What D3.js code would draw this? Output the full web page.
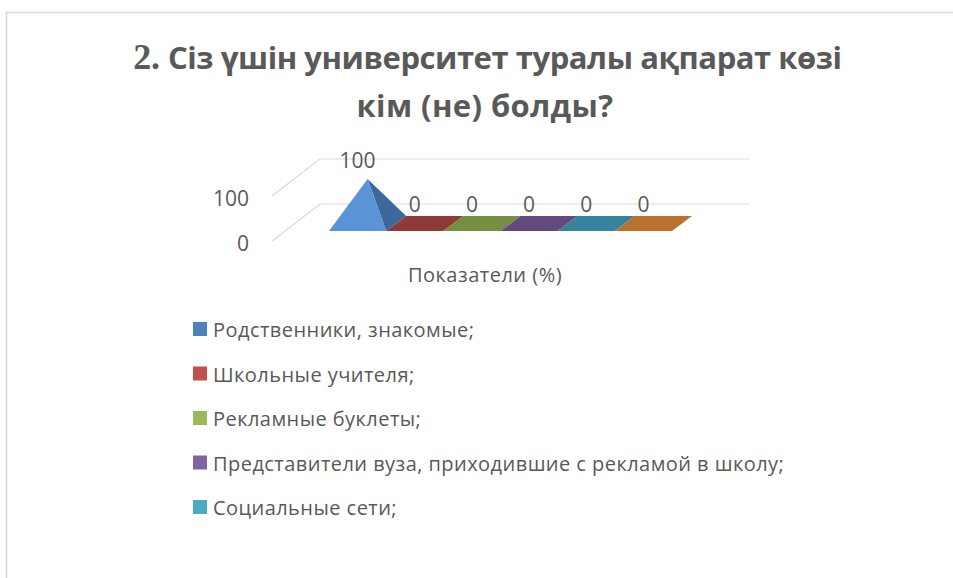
<!DOCTYPE html>
<html><head><meta charset="utf-8">
<script src="https://cdn.jsdelivr.net/npm/d3@7/dist/d3.min.js"></script>
<style>html,body{margin:0;background:#fff}svg{display:block}text{font-family:"Open Sans","Noto Sans",sans-serif}</style>
</head><body><svg id="c" width="953" height="578"></svg>
<script>
const categories = ["Родственники, знакомые;","Школьные учителя;","Рекламные буклеты;","Представители вуза, приходившие с рекламой в школу;","Социальные сети;",""];
const values = [100,0,0,0,0,0];
const yTicks = [0,100];
const legendColors = ["#4f81bd","#c0504d","#9bbb59","#8064a2","#4bacc6"];
const frontColors = ["#5b93d7","#8f3a38","#758f40","#624b7c","#35849b","#b97130"];
const sideColors = ["#3d689c","#8f3a38","#758f40","#624b7c","#35849b","#b97130"];
const titleLines = [["2.","Сіз үшін университет туралы ақпарат көзі"],["","кім (не) болды?"]];
const titleSpacing = [-0.45,0.4];
const axisTitle = "Показатели (%)";

const svg = d3.select("#c");
const grid = "#d9d9d9", txt = "#595959";
svg.append("path").attr("d","M6.5 578V12.5H953").attr("fill","none").attr("stroke",grid).attr("stroke-width",1.6);

// title
const t = svg.append("g").attr("text-anchor","middle").attr("fill",txt).attr("font-weight",700).attr("font-size",31);
titleLines.forEach((l,i)=>{
  const e=t.append("text").attr("x",i?485:487.5).attr("y",69+i*48).attr("letter-spacing",titleSpacing[i]);
  if(l[0]) e.append("tspan").attr("font-family","'Liberation Serif',serif").attr("font-size",36).text(l[0]+" ");
  e.append("tspan").text(l[1]);
});

// pseudo-3D frame
const x = d3.scaleBand().domain(d3.range(categories.length)).range([329,672]);
const y = d3.scaleLinear().domain([0,100]).range([204,159]);   // back wall
const yFront = d3.scaleLinear().domain([0,100]).range([241,196]); // left edge
const depth = {dx:20, dy:-15}, floorY = 231, apexY = d3.scaleLinear().domain([0,100]).range([223.5,179]);

yTicks.forEach(v=>{
  svg.append("path").attr("d",d3.line()([[272,yFront(v)],[320,y(v)],[749,y(v)]]))
    .attr("fill","none").attr("stroke",grid).attr("stroke-width",1.2);
});
svg.append("g").attr("fill",txt).attr("font-size",21).attr("text-anchor","end")
  .selectAll("text").data(yTicks).join("text")
  .attr("x",249).attr("y",v=>yFront(v)+9.5).text(v=>v);

// pyramids
const line = d3.line();
const g = svg.append("g");
values.forEach((v,i)=>{
  const x0=x(i), x1=x0+x.bandwidth();
  const A=[x0,floorY],B=[x1,floorY],C=[x1+depth.dx,floorY+depth.dy],D=[x0+depth.dx,floorY+depth.dy];
  const P=[(x0+x1+depth.dx)/2,apexY(v)];
  if(v===0){
    g.append("path").attr("d",line([A,B,C,D])+"Z").attr("fill",frontColors[i]);
  }else{
    g.append("path").attr("d",line([B,C,P])+"Z").attr("fill",sideColors[i]);
    g.append("path").attr("d",line([A,B,P])+"Z").attr("fill",frontColors[i]);
  }
});
// data labels
svg.append("g").attr("fill",txt).attr("font-size",21).attr("text-anchor","middle")
  .selectAll("text").data(values).join("text")
  .attr("x",(v,i)=>x(i)+x.bandwidth()/2)
  .attr("y",v=>v?168:212).text(v=>v);

svg.append("text").attr("x",485).attr("y",282).attr("text-anchor","middle").attr("fill",txt).attr("font-size",20).attr("letter-spacing",0.5).text(axisTitle);

// legend
const ly = d3.scalePoint().domain(d3.range(5)).range([331,509]);
const lg = svg.append("g").selectAll("g").data(legendColors).join("g").attr("transform",(c,i)=>`translate(0,${ly(i)})`);
lg.append("rect").attr("x",193).attr("y",-9).attr("width",14).attr("height",14).attr("fill",c=>c);
lg.append("text").attr("x",213).attr("y",6).attr("fill",txt).attr("font-size",20).attr("letter-spacing",0.45).text((c,i)=>categories[i]);
</script></body></html>
